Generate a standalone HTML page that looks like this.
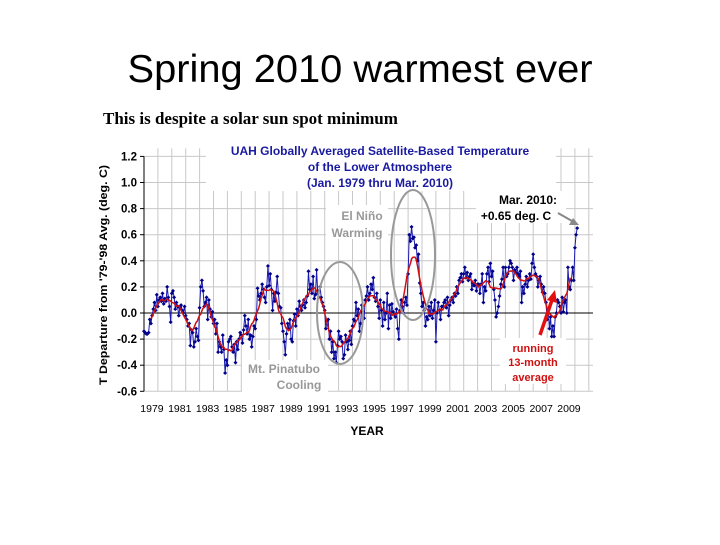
<!DOCTYPE html>
<html><head><meta charset="utf-8"><style>
body{margin:0;background:#fff;width:720px;height:540px;overflow:hidden;font-family:"Liberation Sans",sans-serif}
</style></head><body>
<svg width="720" height="540">
<text x="360" y="82" text-anchor="middle" font-size="39" textLength="465" lengthAdjust="spacingAndGlyphs" font-family="Liberation Sans, sans-serif">Spring 2010 warmest ever</text>
<text x="103" y="124" font-size="17" font-weight="bold" font-family="Liberation Serif, serif">This is despite a solar sun spot minimum</text>
<g id="chart"></g>
</svg>
<script>
const yearStart=1979;
const yTicks=[-0.6,-0.4,-0.2,0.0,0.2,0.4,0.6,0.8,1.0,1.2];
const yearLabels=[1979,1981,1983,1985,1987,1989,1991,1993,1995,1997,1999,2001,2003,2005,2007,2009];
const monthly=[
-0.14,-0.15,-0.16,-0.16,-0.15,-0.05,-0.08,-0.02,0.03,0.08,0.02,0.14,
0.05,0.10,0.12,0.09,0.15,0.07,0.11,0.09,0.20,0.12,0.05,-0.07,
0.15,0.17,0.12,0.03,0.08,0.05,-0.02,0.04,0.06,0.02,0.00,0.05,
-0.02,-0.05,-0.10,-0.08,-0.25,-0.13,-0.15,-0.26,-0.22,-0.12,-0.18,-0.21,
0.04,0.20,0.25,0.17,0.05,0.08,0.12,-0.05,0.10,0.03,-0.03,0.01,
-0.08,-0.05,-0.16,-0.08,-0.30,-0.22,-0.26,-0.30,-0.17,-0.28,-0.46,-0.36,
-0.40,-0.22,-0.20,-0.18,-0.26,-0.30,-0.24,-0.38,-0.22,-0.28,-0.20,-0.15,
-0.17,-0.23,-0.13,-0.02,-0.10,-0.16,-0.05,-0.20,-0.17,-0.26,-0.18,-0.10,
-0.12,-0.05,0.19,0.13,0.10,0.15,0.22,0.18,0.12,0.08,0.20,0.36,
0.21,0.30,0.18,0.02,0.15,0.09,0.16,0.28,0.15,0.05,0.04,-0.08,
-0.14,-0.22,-0.32,-0.16,-0.08,-0.12,-0.05,-0.20,-0.22,-0.06,-0.01,-0.10,
0.03,-0.02,0.09,0.05,0.02,0.06,0.10,0.04,0.08,0.13,0.32,0.18,
0.22,0.15,0.28,0.11,0.14,0.33,0.15,0.17,0.20,0.12,0.08,0.05,
0.02,-0.12,-0.06,-0.05,-0.20,-0.14,-0.30,-0.22,-0.35,-0.30,-0.38,-0.25,
-0.14,-0.20,-0.18,-0.22,-0.35,-0.32,-0.17,-0.22,-0.28,-0.21,-0.14,-0.24,
-0.10,-0.05,-0.06,0.08,-0.02,0.03,-0.14,-0.08,0.06,0.01,-0.04,0.10,
0.13,0.20,0.10,0.15,0.22,0.18,0.27,0.12,0.09,0.15,0.05,-0.04,
0.10,0.02,-0.10,0.08,-0.05,0.00,0.15,-0.12,0.06,-0.04,0.07,0.01,
-0.01,-0.03,0.03,-0.12,-0.20,0.02,0.10,0.05,0.00,0.08,0.12,0.06,
0.30,0.60,0.55,0.66,0.57,0.58,0.50,0.52,0.40,0.45,0.23,0.15,
0.05,0.08,0.02,-0.10,-0.03,-0.05,0.05,-0.02,0.08,-0.04,0.02,0.10,
-0.22,0.00,0.08,0.02,-0.05,0.05,0.05,0.08,0.10,0.04,0.12,-0.02,
0.06,0.10,0.12,0.08,0.15,0.13,0.20,0.15,0.25,0.27,0.30,0.24,
0.30,0.35,0.27,0.31,0.25,0.28,0.30,0.18,0.23,0.21,0.25,0.17,
0.22,0.22,0.15,0.22,0.30,0.08,0.20,0.17,0.30,0.35,0.24,0.38,
0.28,0.32,0.18,0.10,-0.03,0.00,0.05,0.13,0.22,0.26,0.35,0.20,
0.35,0.28,0.30,0.35,0.40,0.38,0.35,0.25,0.33,0.31,0.35,0.30,
0.28,0.32,0.08,0.20,0.15,0.22,0.28,0.20,0.25,0.30,0.26,0.38,
0.45,0.35,0.30,0.28,0.20,0.25,0.28,0.22,0.16,0.20,0.15,0.08,
-0.05,0.02,-0.12,-0.03,-0.18,-0.10,-0.18,-0.03,0.00,0.10,0.08,0.05,
0.00,0.12,0.01,0.08,0.10,0.00,0.35,0.20,0.18,0.25,0.35,0.25,
0.50,0.60,0.65];
const NS='http://www.w3.org/2000/svg';
const g=document.getElementById('chart');
const X0=144,PXY=13.9,Y0=313,PXU=130.5;
const xs=t=>X0+(t-yearStart)*PXY;
const ys=v=>Y0-v*PXU;
function mk(tag,attrs,parent){const e=document.createElementNS(NS,tag);for(const k in attrs)e.setAttribute(k,attrs[k]);(parent||g).appendChild(e);return e;}
for(let y=yearStart+1;y<=2011;y++){const l=mk('line',{x1:xs(y),x2:xs(y),y1:ys(1.2)-8,y2:ys(-0.6),stroke:'#c8c8c8','stroke-width':1});
}
yTicks.forEach(v=>{if(v!==0){const l=mk('line',{x1:X0,x2:xs(2011.3),y1:ys(v),y2:ys(v),stroke:'#c8c8c8','stroke-width':1});
}
const t=mk('text',{x:137,y:ys(v)+4,'text-anchor':'end','font-size':11.5,'font-weight':'bold'});t.textContent=v.toFixed(1);
});
mk('rect',{x:206,y:145,width:350,height:46,fill:'#fff'});
mk('rect',{x:476,y:191,width:90,height:32,fill:'#fff'});
mk('rect',{x:326,y:205,width:62,height:34,fill:'#fff'});
mk('rect',{x:242,y:360,width:86,height:32,fill:'#fff'});
mk('rect',{x:500,y:338,width:66,height:46,fill:'#fff'});
let a=mk('line',{x1:X0,x2:X0,y1:ys(1.2),y2:ys(-0.6),stroke:'#000'});
yTicks.forEach(v=>mk('line',{x1:X0-4,x2:X0,y1:ys(v),y2:ys(v),stroke:'#000'}));
a=mk('line',{x1:X0,x2:xs(2011.3),y1:ys(0),y2:ys(0),stroke:'#000'});
yearLabels.forEach(y=>{const t=mk('text',{x:xs(y+0.5)+1,y:412,'text-anchor':'middle','font-size':10.5});t.textContent=y;
});
const pts=monthly.map((v,i)=>[xs(yearStart+i/12),ys(v)]);
let p=mk('polyline',{points:pts.map(q=>q.join(',')).join(' '),fill:'none',stroke:'#1a1ab0','stroke-width':1});

pts.forEach(q=>{const m=mk('path',{d:`M${q[0]},${q[1]-2}l2,2l-2,2l-2,-2z`,fill:'#00008b'});
});
const avg=[];for(let i=6;i<monthly.length-6;i++){let s=0;for(let k=-6;k<=6;k++)s+=monthly[i+k];avg.push([xs(yearStart+i/12),ys(s/13)]);}
p=mk('polyline',{points:avg.map(q=>q.join(',')).join(' '),fill:'none',stroke:'#d01010','stroke-width':1.5});

let e=mk('ellipse',{cx:413,cy:255,rx:22,ry:65,fill:'none',stroke:'#999','stroke-width':2});
e=mk('ellipse',{cx:340,cy:313,rx:23,ry:51,fill:'none',stroke:'#999','stroke-width':2});
function txt(s,x,y,attrs,name){const t=mk('text',Object.assign({x:x,y:y,'font-size':12,'font-weight':'bold','text-anchor':'middle'},attrs));t.textContent=s;
return t;}
txt('UAH Globally Averaged Satellite-Based Temperature',380,155,{fill:'#1a1aa0'},'chart-title');
txt('of the Lower Atmosphere',380,171,{fill:'#1a1aa0'},'chart-title');
txt('(Jan. 1979  thru Mar. 2010)',380,187,{fill:'#1a1aa0'},'chart-title');
txt('El Niño',362,220,{fill:'#999'},'el-nino-label');
txt('Warming',357,237,{fill:'#999'},'el-nino-label');
txt('Mt. Pinatubo',284,373,{fill:'#999'},'pinatubo-label');
txt('Cooling',299,389,{fill:'#999'},'pinatubo-label');
txt('Mar. 2010:',528,204,{},'mar-2010-label');
txt('+0.65 deg. C',516,220,{},'mar-2010-value');
txt('running',533,352,{fill:'#d01010','font-size':11},'avg-label');
txt('13-month',533,366,{fill:'#d01010','font-size':11},'avg-label');
txt('average',533,381,{fill:'#d01010','font-size':11},'avg-label');
txt('YEAR',367,435,{},'x-axis-title');
txt("T Departure from '79-'98 Avg. (deg. C)",0,0,{transform:'translate(107,275) rotate(-90)','font-size':11,textLength:220,lengthAdjust:'spacingAndGlyphs'},'y-axis-title');
mk('line',{x1:558,y1:213,x2:572,y2:221,stroke:'#888','stroke-width':2});
mk('path',{d:'M579,225 l-10,0 l4,-7 z',fill:'#888'});
mk('line',{x1:540,y1:335,x2:552,y2:300,stroke:'#e01010','stroke-width':3.5});
mk('path',{d:'M555,290 l-8,10 l10,3 z',fill:'#e01010'});
</script>
</body></html>
